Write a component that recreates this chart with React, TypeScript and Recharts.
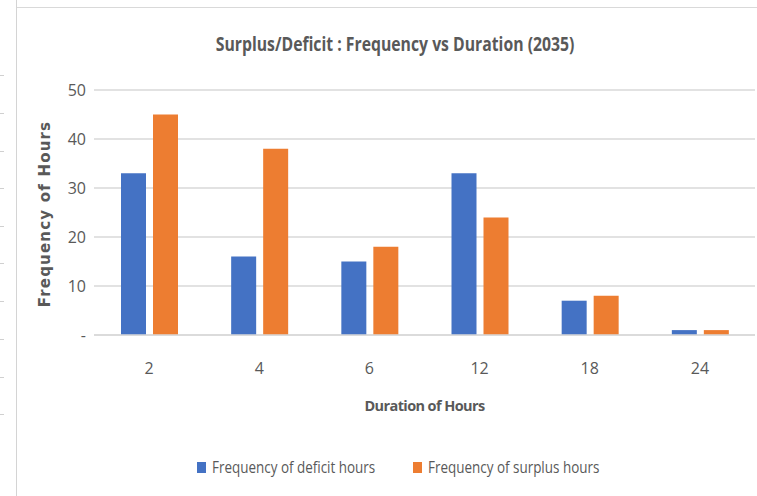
import { BarChart, Bar, XAxis, YAxis, CartesianGrid, Legend, Label } from 'recharts';

const durations = ['2', '4', '6', '12', '18', '24'];
const deficitHours = [33, 16, 15, 33, 7, 1];
const surplusHours = [45, 38, 18, 24, 8, 1];
const yTicks = [0, 10, 20, 30, 40, 50];

const data = durations.map((d, i) => ({
  duration: d,
  deficit: deficitHours[i],
  surplus: surplusHours[i]
}));

const font = '"Open Sans", sans-serif';
const textColor = '#595959';
const sheetRows = [75, 113, 151, 188, 226, 263, 301, 339, 377, 414];

const renderLegend = (props: any) => {
  const items = props.payload || [];
  return (
    <div style={{ display: 'flex', justifyContent: 'center', fontFamily: font, fontSize: 16, color: textColor }}>
      {items.map((it: any, i: number) => (
        <div key={i} style={{ display: 'flex', alignItems: 'center', marginRight: i === 0 ? 38 : 0 }}>
          <span style={{ display: 'inline-block', width: 9, height: 11, background: it.color, marginRight: 6 }} />
          <span style={{ display: 'inline-block', transform: 'scaleX(0.84)', transformOrigin: 'left center', width: 163, whiteSpace: 'nowrap' }}>
            {it.value}
          </span>
        </div>
      ))}
    </div>
  );
};

const App = () => {
  return (
    <div style={{ position: 'absolute', left: 0, top: 0, width: 757, height: 496, background: '#fff', overflow: 'hidden' }}>
      {/* spreadsheet edge behind the chart */}
      <div style={{ position: 'absolute', left: 16, top: 0, width: 1, height: 496, background: '#d4d4d4' }} />
      <div style={{ position: 'absolute', left: 17, top: 7, width: 740, height: 1, background: '#d9d9d9' }} />
      {sheetRows.map((y) => (
        <div key={y} style={{ position: 'absolute', left: 0, top: y, width: 4, height: 1, background: '#d0d0d0' }} />
      ))}

      <div style={{
        position: 'absolute', left: 395, top: 31, width: 0, display: 'flex', justifyContent: 'center'
      }}>
        <span style={{
          display: 'inline-block', whiteSpace: 'nowrap', transform: 'scaleX(0.83)',
          fontFamily: font, fontWeight: 'bold', fontSize: 19, color: textColor
        }}>
          Surplus/Deficit : Frequency vs Duration (2035)
        </span>
      </div>

      <div style={{
        position: 'absolute', left: 45, top: 214, width: 240, marginLeft: -120, marginTop: -10,
        textAlign: 'center', transform: 'rotate(-90deg)', fontFamily: '"DejaVu Sans", Verdana, sans-serif',
        fontWeight: 'bold', fontSize: 15, letterSpacing: 1.2, color: textColor, lineHeight: '20px'
      }}>
        Frequency of Hours
      </div>

      <BarChart
        width={757}
        height={496}
        data={data}
        margin={{ top: 90, right: 2, bottom: 59, left: 54 }}
        barSize={25}
        barGap={7}
        style={{ position: 'absolute', left: 0, top: 0 }}
      >
        <CartesianGrid vertical={false} stroke="#d9d9d9" strokeWidth={1.5} />
        <XAxis
          dataKey="duration"
          height={80}
          axisLine={{ stroke: '#d9d9d9', strokeWidth: 1.5 }}
          tickLine={false}
          tickMargin={22}
          tick={{ fontSize: 16, fill: textColor, fontFamily: font }}
        >
          <Label
            value="Duration of Hours"
            position="insideBottom"
            offset={4}
            style={{ fontSize: 14.5, letterSpacing: -0.6, fontWeight: 'bold', fill: textColor, fontFamily: font }}
          />
        </XAxis>
        <YAxis
          width={40}
          domain={[0, 50]}
          ticks={yTicks}
          axisLine={false}
          tickLine={false}
          tickFormatter={(v) => (Number(v) === 0 ? '-' : String(v))}
          tick={{ fontSize: 16, fill: textColor, fontFamily: font }}
        />
        <Legend
          verticalAlign="bottom"
          content={renderLegend}
          wrapperStyle={{ bottom: 18, left: 15, width: 757 }}
        />
        <Bar dataKey="deficit" name="Frequency of deficit hours" fill="#4472C4" isAnimationActive={false} />
        <Bar dataKey="surplus" name="Frequency of surplus hours" fill="#ED7D31" isAnimationActive={false} />
      </BarChart>
    </div>
  );
};

export default App;
